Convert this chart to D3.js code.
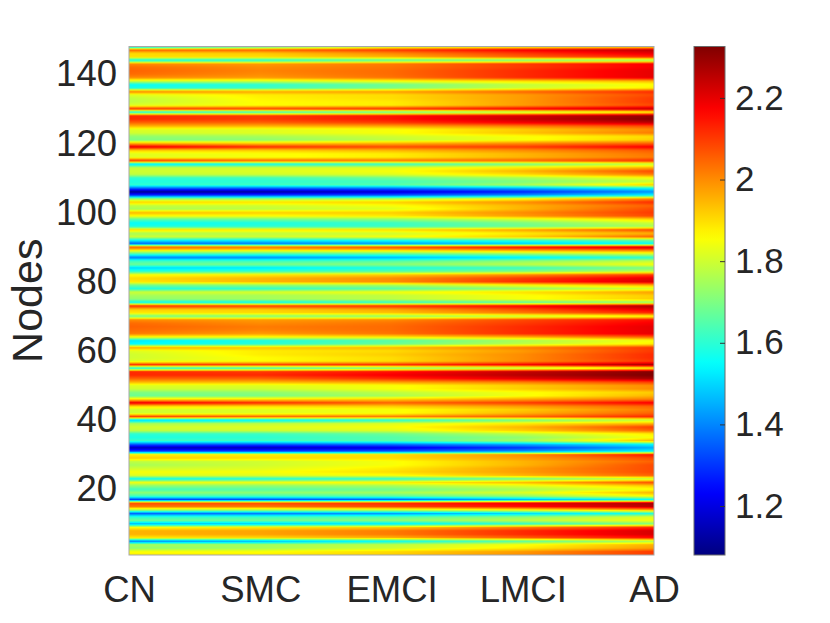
<!DOCTYPE html>
<html>
<head>
<meta charset="utf-8">
<script src="https://cdn.jsdelivr.net/npm/d3@7"></script>
<style>
  body { margin: 0; background: #fff; }
  svg { display: block; font-family: "Liberation Sans", Arial, Helvetica, sans-serif; }
</style>
</head>
<body>
<svg id="chart" width="830" height="623"></svg>
<script>
// stages along x, nodes 1..148 along y
var stages = ['CN', 'SMC', 'EMCI', 'LMCI', 'AD'];
var nodeTicks = [20, 40, 60, 80, 100, 120, 140];
var colorTicks = [1.2, 1.4, 1.6, 1.8, 2, 2.2];
var colorRange = [1.08, 2.326];

// node values per stage (node 1 first)
var valCN = [
  1.88,1.85,1.72,1.75,1.38,1.88,1.95,1.95,1.85,1.45,
  1.68,1.60,1.35,1.75,2.02,2.08,1.30,1.62,1.72,1.62,
  1.72,1.85,1.55,1.82,1.85,1.80,1.75,1.78,1.92,1.88,
  1.32,1.15,1.35,1.62,1.58,1.60,1.78,1.80,1.75,1.48,
  2.10,1.80,1.80,1.90,2.20,1.90,1.68,1.70,1.80,1.82,
  1.95,2.05,2.12,2.12,1.55,2.12,1.82,1.80,1.80,1.82,
  1.97,1.55,1.52,1.85,2.02,2.04,2.05,2.04,2.00,1.68,
  1.88,1.92,2.12,1.55,1.72,1.75,1.80,1.58,1.68,1.88,
  1.90,1.85,1.60,1.50,1.68,1.62,1.38,1.62,1.85,2.08,
  1.35,1.55,1.80,1.75,1.90,1.58,1.55,1.65,1.85,1.95,
  1.75,1.78,1.92,1.72,1.30,1.10,1.35,1.60,1.58,1.60,
  1.78,1.80,1.78,1.50,2.12,1.82,1.82,1.92,2.20,1.95,
  1.70,1.72,1.80,1.82,1.95,2.05,2.12,2.12,1.55,2.12,
  1.82,1.78,1.78,1.82,2.02,1.58,1.55,1.80,2.00,2.04,
  2.05,2.04,2.00,1.55,1.90,1.90,2.05,1.45
];
var valSMC = [
  1.88,1.85,1.75,1.75,1.45,1.90,1.97,1.97,1.88,1.48,
  1.68,1.62,1.38,1.75,2.02,2.08,1.32,1.62,1.72,1.65,
  1.72,1.85,1.58,1.82,1.85,1.82,1.80,1.80,1.90,1.88,
  1.32,1.15,1.35,1.62,1.60,1.62,1.80,1.82,1.78,1.52,
  2.05,1.82,1.82,1.90,2.12,1.90,1.70,1.72,1.80,1.82,
  1.95,2.05,2.12,2.10,1.60,2.10,1.86,1.86,1.88,1.88,
  1.93,1.60,1.58,1.85,1.98,2.01,2.02,2.00,1.98,1.70,
  1.90,1.92,2.10,1.55,1.75,1.75,1.82,1.60,1.72,1.95,
  1.95,1.88,1.62,1.52,1.70,1.62,1.40,1.62,1.85,2.05,
  1.38,1.55,1.80,1.78,1.88,1.60,1.58,1.68,1.85,1.92,
  1.78,1.80,1.90,1.72,1.32,1.12,1.35,1.62,1.60,1.62,
  1.80,1.82,1.80,1.55,2.05,1.85,1.85,1.92,2.12,1.92,
  1.72,1.75,1.82,1.82,1.95,2.05,2.10,2.10,1.60,2.10,
  1.86,1.86,1.87,1.88,1.97,1.62,1.60,1.80,1.98,2.00,
  2.01,2.00,1.98,1.58,1.90,1.92,2.05,1.60
];
var valEMCI = [
  1.92,1.90,1.80,1.78,1.55,1.95,2.02,2.02,1.92,1.52,
  1.72,1.65,1.42,1.78,2.08,2.12,1.35,1.65,1.75,1.68,
  1.75,1.88,1.60,1.85,1.90,1.88,1.85,1.85,1.90,1.90,
  1.35,1.20,1.38,1.65,1.65,1.68,1.82,1.85,1.82,1.58,
  2.02,1.85,1.85,1.92,2.05,1.92,1.75,1.78,1.85,1.85,
  1.98,2.12,2.18,2.15,1.68,2.12,1.90,1.90,1.92,1.90,
  1.95,1.68,1.65,1.88,2.03,2.04,2.04,2.03,2.00,1.72,
  1.93,1.97,2.12,1.60,1.78,1.78,1.85,1.65,1.75,2.00,
  2.00,1.92,1.65,1.58,1.72,1.65,1.45,1.65,1.88,2.10,
  1.42,1.58,1.85,1.80,1.90,1.62,1.62,1.72,1.88,1.92,
  1.82,1.85,1.92,1.75,1.35,1.18,1.38,1.65,1.63,1.68,
  1.82,1.85,1.82,1.60,2.03,1.88,1.88,1.95,2.08,1.95,
  1.78,1.80,1.85,1.85,1.97,2.10,2.15,2.15,1.65,2.12,
  1.88,1.88,1.90,1.90,1.98,1.70,1.68,1.85,2.03,2.04,
  2.04,2.03,2.02,1.65,1.95,2.00,2.10,1.78
];
var valLMCI = [
  2.00,1.98,1.88,1.85,1.65,2.05,2.12,2.12,2.02,1.60,
  1.78,1.72,1.50,1.85,2.15,2.20,1.45,1.72,1.82,1.75,
  1.82,1.95,1.68,1.95,1.98,1.98,1.95,1.95,1.98,2.00,
  1.42,1.30,1.45,1.75,1.72,1.78,1.92,1.95,1.88,1.68,
  2.05,1.95,1.92,1.98,2.10,1.97,1.85,1.85,1.92,1.92,
  2.02,2.20,2.26,2.24,1.75,2.18,2.00,2.00,2.00,1.98,
  2.02,1.78,1.75,1.95,2.12,2.12,2.12,2.10,2.08,1.78,
  2.02,2.08,2.18,1.65,1.85,1.85,1.90,1.72,1.85,2.12,
  2.10,2.00,1.70,1.62,1.78,1.72,1.52,1.72,1.95,2.18,
  1.48,1.62,1.92,1.88,1.97,1.68,1.70,1.80,1.98,2.00,
  1.95,1.95,2.00,1.85,1.42,1.28,1.45,1.75,1.70,1.75,
  1.90,1.95,1.88,1.68,2.05,1.95,1.95,2.00,2.10,2.00,
  1.85,1.85,1.93,1.92,2.02,2.18,2.24,2.22,1.75,2.18,
  1.98,1.98,1.98,1.98,2.05,1.80,1.78,1.90,2.12,2.12,
  2.12,2.10,2.10,1.68,2.05,2.10,2.18,1.82
];
var valAD = [
  2.10,2.10,1.98,1.95,1.75,2.15,2.22,2.22,2.12,1.70,
  1.85,1.82,1.58,1.95,2.25,2.28,1.55,1.85,1.95,1.85,
  1.92,2.08,1.78,2.05,2.08,2.08,2.08,2.05,2.08,2.15,
  1.55,1.45,1.55,1.95,1.85,1.88,2.05,2.10,1.95,1.78,
  2.12,2.05,2.02,2.05,2.18,2.02,1.95,1.92,2.00,2.00,
  2.10,2.28,2.33,2.32,1.85,2.28,2.10,2.12,2.12,2.10,
  2.10,1.88,1.85,2.05,2.20,2.20,2.20,2.18,2.15,1.85,
  2.12,2.20,2.28,1.72,1.92,1.92,1.98,1.80,1.95,2.22,
  2.20,2.10,1.78,1.70,1.85,1.78,1.60,1.80,2.00,2.25,
  1.55,1.68,2.05,1.95,2.08,1.75,1.80,1.90,2.08,2.10,
  2.08,2.05,2.12,2.00,1.55,1.42,1.55,1.92,1.78,1.85,
  2.02,2.08,1.95,1.78,2.12,2.02,2.03,2.06,2.18,2.05,
  1.92,1.90,2.02,2.00,2.08,2.25,2.32,2.30,1.85,2.25,
  2.08,2.10,2.10,2.08,2.12,1.88,1.85,1.95,2.20,2.20,
  2.20,2.18,2.18,1.72,2.12,2.20,2.25,1.85
];

var series = [valCN, valSMC, valEMCI, valLMCI, valAD];
var nNodes = valCN.length;

var svg = d3.select('#chart');
var textColor = '#262626';

var x = d3.scaleLinear().domain([1, stages.length]).range([129, 654]);
var y = d3.scaleLinear().domain([1, nNodes]).range([555, 46.5]);

// MATLAB-style jet
function jet(t) {
  var c = function (v) { return Math.max(0, Math.min(1, v)); };
  var r = c(1.5 - Math.abs(4 * t - 3));
  var g = c(1.5 - Math.abs(4 * t - 2));
  var b = c(1.5 - Math.abs(4 * t - 1));
  return d3.rgb(r * 255, g * 255, b * 255);
}
var color = d3.scaleSequential(jet).domain(colorRange).clamp(true);

// interpolated surface (pcolor + shading interp)
function valueAt(s, n) {
  var s0 = Math.max(0, Math.min(stages.length - 2, Math.floor(s - 1)));
  var n0 = Math.max(0, Math.min(nNodes - 2, Math.floor(n - 1)));
  var fs = Math.max(0, Math.min(1, s - 1 - s0));
  var fn = Math.max(0, Math.min(1, n - 1 - n0));
  var a = series[s0][n0], b = series[s0 + 1][n0];
  var c = series[s0][n0 + 1], d = series[s0 + 1][n0 + 1];
  return (a * (1 - fs) + b * fs) * (1 - fn) + (c * (1 - fs) + d * fs) * fn;
}

var x0 = x.range()[0], x1 = x.range()[1];
var yTop = y.range()[1], yBot = y.range()[0];
var w = Math.round(x1 - x0), h = Math.round(yBot - yTop);
var canvas = document.createElement('canvas');
canvas.width = w; canvas.height = h;
var ctx = canvas.getContext('2d');
var img = ctx.createImageData(w, h);
for (var py = 0; py < h; py++) {
  var n = y.invert(yTop + (py + 0.5) * (yBot - yTop) / h);
  for (var px = 0; px < w; px++) {
    var s = x.invert(x0 + (px + 0.5) * (x1 - x0) / w);
    var col = d3.rgb(color(valueAt(s, n)));
    var k = (py * w + px) * 4;
    img.data[k] = col.r; img.data[k + 1] = col.g; img.data[k + 2] = col.b; img.data[k + 3] = 255;
  }
}
ctx.putImageData(img, 0, 0);

svg.append('image')
  .attr('x', x0).attr('y', yTop)
  .attr('width', x1 - x0).attr('height', yBot - yTop)
  .attr('preserveAspectRatio', 'none')
  .attr('href', canvas.toDataURL());

svg.append('rect')
  .attr('x', x0).attr('y', yTop)
  .attr('width', x1 - x0).attr('height', yBot - yTop)
  .attr('fill', 'none').attr('stroke', '#a8a8a8').attr('stroke-width', 1);

// axes
var yAxis = svg.append('g')
  .attr('transform', 'translate(' + x0 + ',0)')
  .call(d3.axisLeft(y).tickValues(nodeTicks).tickSize(0).tickPadding(12));
var xAxis = svg.append('g')
  .attr('transform', 'translate(0,' + yBot + ')')
  .call(d3.axisBottom(x).tickValues(d3.range(1, stages.length + 1))
    .tickFormat(function (d) { return stages[d - 1]; })
    .tickSize(0).tickPadding(21));
[yAxis, xAxis].forEach(function (g) {
  g.select('.domain').remove();
  g.selectAll('text').style('font-size', '36.5px').attr('fill', textColor);
});

svg.append('text')
  .attr('transform', 'translate(42,' + ((yTop + yBot) / 2) + ') rotate(-90)')
  .attr('text-anchor', 'middle')
  .style('font-size', '43px')
  .attr('fill', textColor)
  .text('Nodes');

// colorbar
var cbX = 694, cbW = 31;
var cy = d3.scaleLinear().domain(colorRange).range([yBot, yTop]);
var grad = svg.append('defs').append('linearGradient')
  .attr('id', 'cbGrad').attr('x1', 0).attr('y1', 1).attr('x2', 0).attr('y2', 0);
d3.range(0, 1.0001, 0.02).forEach(function (t) {
  grad.append('stop').attr('offset', t).attr('stop-color', jet(t).formatHex());
});
svg.append('rect')
  .attr('x', cbX).attr('y', yTop)
  .attr('width', cbW).attr('height', yBot - yTop)
  .attr('fill', 'url(#cbGrad)')
  .attr('stroke', '#6a6a6a').attr('stroke-width', 1);

var cAxis = svg.append('g')
  .attr('transform', 'translate(' + (cbX + cbW) + ',0)')
  .call(d3.axisRight(cy).tickValues(colorTicks).tickSize(-5).tickPadding(10)
    .tickFormat(function (d) { return d3.format('')(+d.toFixed(1)); }));
cAxis.select('.domain').remove();
cAxis.selectAll('line').attr('stroke', '#333');
cAxis.selectAll('text').style('font-size', '35px').attr('fill', textColor);
</script>
</body>
</html>
